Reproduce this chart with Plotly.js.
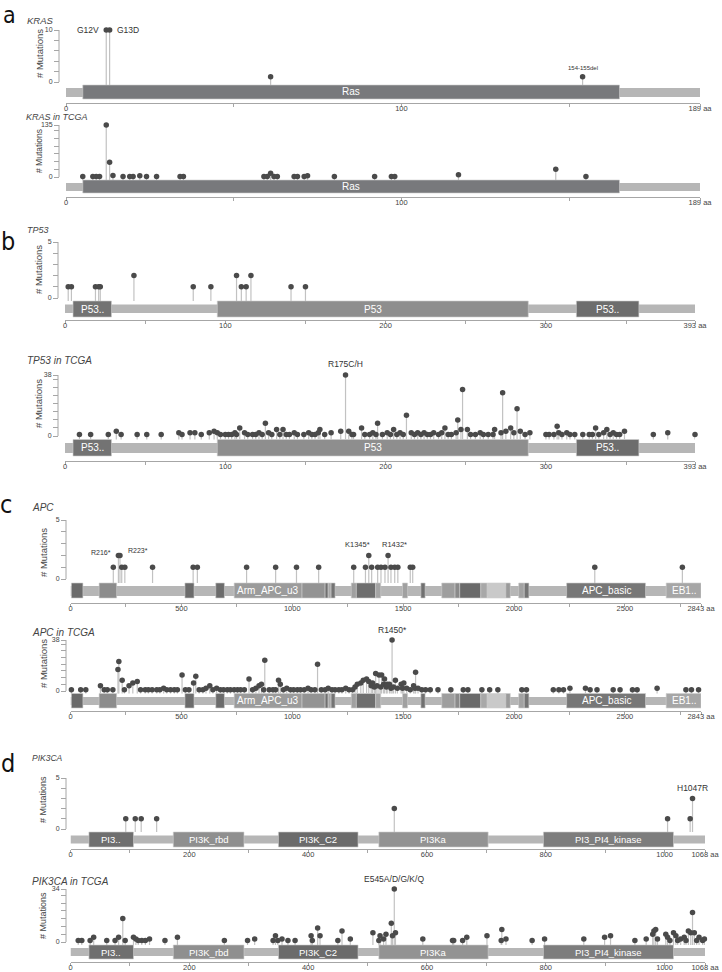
<!DOCTYPE html>
<html><head><meta charset="utf-8">
<script src="https://cdn.plot.ly/plotly-3.0.1.min.js"></script>
<style>html,body{margin:0;padding:0;background:#fff}#chart{width:722px;height:972px}</style>
</head><body><div id="chart"></div>
<script>
// ================= DATA =================
// KRAS
const krasLength = 189;
const krasDomainNames = ['Ras'];
const krasDomainStart = [5];
const krasDomainEnd = [165];
const krasPos = [12, 13, 61, 154];
const krasCount = [10, 10, 1, 1];
const krasLabelText = ['G12V', 'G13D', '154-155del'];
const krasLabelPos = [12, 13, 154];

const krasTcgaPos = [5, 8, 9, 10, 12, 13, 14, 17, 19, 20, 22, 24, 27, 34, 35, 59, 60, 61, 62, 63, 68, 69, 71, 72, 80, 92, 97, 98, 117, 146, 155];
const krasTcgaCount = [1, 1, 1, 1, 135, 38, 4, 1, 1, 1, 3, 1, 1, 1, 1, 1, 1, 10, 1, 1, 1, 1, 1, 3, 1, 1, 1, 1, 6, 20, 1];
const krasTcgaLabelText = [];
const krasTcgaLabelPos = [];

// TP53
const tp53Length = 393;
const tp53DomainNames = ['P53..', 'P53', 'P53..'];
const tp53DomainStart = [5, 95, 319];
const tp53DomainEnd = [29, 289, 358];
const tp53Pos = [2, 4, 19, 21, 22, 43, 80, 91, 107, 110, 113, 116, 141, 150];
const tp53Count = [1, 1, 1, 1, 1, 2, 1, 1, 2, 1, 1, 2, 1, 1];
const tp53LabelText = [];
const tp53LabelPos = [];

const tp53TcgaPos = [9, 16, 27, 32, 35, 45, 51, 60, 71, 73, 78, 81, 85, 90, 93, 95, 97, 100, 102, 104, 106, 107, 109, 112, 114, 117, 119, 121, 123, 125, 127, 129, 132, 134, 136, 138, 140, 143, 145, 149, 152, 154, 156, 158, 159, 162, 166, 172, 175, 177, 179, 180, 185, 187, 190, 192, 194, 195, 198, 201, 203, 205, 207, 209, 211, 213, 216, 218, 220, 222, 224, 226, 228, 230, 233, 235, 237, 239, 241, 244, 245, 247, 248, 251, 253, 256, 259, 261, 264, 267, 268, 272, 273, 275, 278, 280, 282, 284, 287, 290, 300, 302, 305, 307, 308, 310, 313, 315, 318, 323, 327, 329, 331, 333, 336, 338, 340, 342, 344, 346, 349, 367, 376, 393];
const tp53TcgaCount = [1, 1, 1, 3, 1, 1, 1, 1, 2, 1, 2, 2, 1, 2, 3, 2, 1, 1, 1, 1, 2, 1, 5, 2, 1, 1, 1, 2, 1, 8, 2, 1, 4, 1, 4, 1, 1, 2, 1, 1, 2, 1, 1, 2, 4, 1, 2, 3, 38, 3, 1, 1, 5, 1, 1, 2, 1, 8, 1, 2, 1, 4, 1, 2, 1, 13, 2, 1, 2, 1, 2, 1, 1, 2, 1, 2, 5, 1, 1, 2, 10, 4, 29, 4, 1, 1, 2, 1, 1, 1, 4, 2, 27, 3, 5, 2, 17, 3, 1, 2, 1, 1, 1, 6, 2, 1, 2, 1, 1, 1, 1, 1, 5, 1, 2, 4, 1, 2, 1, 1, 3, 1, 2, 1];
const tp53TcgaLabelText = ['R175C/H'];
const tp53TcgaLabelPos = [175];

// APC
const apcLength = 2843;
const apcDomainNames = ['', '', '', '', 'Arm_APC_u3', '', '', '', '', '', '', '', '', '', '', '', '', '', '', '', '', '', 'APC_basic', 'EB1..'];
const apcDomainStart = [4, 129, 516, 655, 738, 1044, 1148, 1162, 1175, 1266, 1289, 1376, 1497, 1580, 1674, 1734, 1755, 1850, 1879, 1963, 2021, 2046, 2237, 2686];
const apcDomainEnd = [56, 208, 557, 694, 1044, 1148, 1162, 1175, 1193, 1289, 1376, 1399, 1520, 1599, 1734, 1755, 1850, 1879, 1963, 1983, 2046, 2067, 2593, 2843];
const apcPos = [193, 216, 223, 231, 245, 370, 553, 572, 794, 925, 1019, 1119, 1277, 1330, 1345, 1358, 1385, 1400, 1418, 1432, 1445, 1462, 1476, 1532, 1543, 2364, 2759];
const apcCount = [1, 2, 2, 1, 1, 1, 1, 1, 1, 1, 1, 1, 1, 1, 2, 1, 1, 1, 1, 2, 1, 1, 1, 1, 1, 1, 1];
const apcLabelText = ['R216*', 'R223*', 'K1345*', 'R1432*'];
const apcLabelPos = [216, 223, 1345, 1432];

const apcTcgaPos = [4, 46, 69, 135, 152, 166, 191, 214, 218, 233, 243, 264, 281, 301, 316, 337, 351, 368, 389, 403, 420, 434, 451, 468, 482, 503, 518, 534, 555, 565, 580, 597, 611, 628, 642, 659, 676, 690, 707, 721, 738, 753, 767, 784, 805, 821, 836, 850, 861, 871, 876, 896, 913, 925, 938, 946, 960, 975, 992, 1006, 1023, 1037, 1054, 1071, 1085, 1102, 1114, 1131, 1148, 1162, 1179, 1193, 1210, 1224, 1241, 1256, 1272, 1283, 1293, 1309, 1320, 1335, 1345, 1356, 1362, 1370, 1376, 1382, 1391, 1399, 1403, 1412, 1416, 1424, 1428, 1438, 1445, 1450, 1456, 1465, 1474, 1491, 1497, 1503, 1516, 1532, 1547, 1553, 1556, 1567, 1584, 1601, 1622, 1657, 1715, 1771, 1792, 1855, 1890, 1927, 2035, 2056, 2177, 2202, 2223, 2252, 2322, 2343, 2374, 2447, 2478, 2534, 2555, 2645, 2775, 2800, 2832];
const apcTcgaCount = [1, 1, 1, 4, 1, 1, 1, 16, 22, 8, 1, 4, 6, 7, 1, 1, 1, 1, 1, 1, 2, 1, 1, 1, 1, 12, 1, 1, 6, 11, 1, 1, 2, 4, 1, 2, 1, 1, 1, 1, 1, 1, 1, 1, 9, 1, 2, 4, 5, 1, 23, 1, 1, 1, 8, 5, 1, 2, 1, 1, 1, 1, 1, 2, 1, 1, 20, 1, 1, 2, 1, 1, 1, 1, 2, 1, 1, 3, 5, 6, 8, 9, 7, 4, 6, 3, 13, 4, 12, 3, 12, 5, 9, 3, 5, 5, 2, 38, 3, 8, 2, 5, 2, 6, 2, 1, 4, 2, 14, 2, 1, 1, 1, 1, 1, 1, 1, 1, 1, 1, 1, 1, 1, 1, 1, 2, 2, 1, 1, 1, 1, 1, 1, 2, 1, 1, 1];
const apcTcgaLabelText = ['R1450*'];
const apcTcgaLabelPos = [1450];

// PIK3CA
const pik3caLength = 1068;
const pik3caDomainNames = ['PI3..', 'PI3K_rbd', 'PI3K_C2', 'PI3Ka', 'PI3_PI4_kinase'];
const pik3caDomainStart = [31, 173, 350, 519, 796];
const pik3caDomainEnd = [106, 292, 484, 703, 1015];
const pik3caPos = [93, 109, 119, 145, 545, 1005, 1043, 1047];
const pik3caCount = [1, 1, 1, 1, 2, 1, 1, 3];
const pik3caLabelText = ['H1047R'];
const pik3caLabelPos = [1047];

const pik3caTcgaPos = [13, 19, 33, 39, 61, 75, 81, 88, 92, 106, 110, 114, 120, 126, 133, 159, 180, 259, 298, 310, 341, 345, 349, 356, 366, 378, 405, 407, 416, 420, 450, 457, 471, 509, 519, 521, 527, 531, 540, 542, 545, 547, 593, 643, 645, 660, 667, 701, 725, 726, 733, 777, 798, 864, 899, 909, 950, 969, 980, 982, 985, 988, 1002, 1005, 1009, 1015, 1019, 1022, 1027, 1033, 1036, 1040, 1044, 1047, 1050, 1054, 1058, 1064, 1067];
const pik3caTcgaCount = [1, 1, 1, 3, 1, 1, 3, 15, 1, 3, 2, 1, 1, 1, 2, 1, 3, 1, 1, 2, 1, 4, 1, 2, 1, 1, 4, 1, 9, 4, 1, 7, 2, 6, 1, 4, 2, 5, 12, 4, 34, 6, 2, 1, 1, 1, 3, 4, 1, 8, 2, 1, 2, 2, 3, 4, 1, 2, 5, 7, 8, 2, 5, 3, 1, 6, 4, 1, 2, 3, 1, 7, 6, 19, 6, 1, 3, 1, 2];
const pik3caTcgaLabelText = ['E545A/D/G/K/Q'];
const pik3caTcgaLabelPos = [545];

// ================= STYLE / LAYOUT =================
const W = 722, H = 972;
const krasDomainColors = ['#78797c'];
const tp53DomainColors = ['#737373', '#8e8e8e', '#6d6d6d'];
const apcDomainColors = ['#6b6b6b', '#8c8c8c', '#6b6b6b', '#6b6b6b', '#9b9b9b', '#939393', '#707070', '#a8a8a8', '#747474', '#a0a0a0', '#6e6e6e', '#a4a4a4', '#a0a0a0', '#707070', '#9e9e9e', '#8a8a8a', '#6a6a6a', '#a8a8a8', '#c9c9c9', '#9a9a9a', '#a2a2a2', '#747474', '#777777', '#a6a6a6'];
const pik3caDomainColors = ['#6f6f6f', '#8f8f8f', '#6b6b6b', '#939393', '#7d7d7d'];

const FONT = "'Liberation Sans', Arial, Helvetica, sans-serif";

const panels = [
  {title: 'KRAS', len: krasLength, pos: krasPos, cnt: krasCount, dn: krasDomainNames, ds: krasDomainStart, de: krasDomainEnd, dc: krasDomainColors,
   lt: krasLabelText, lp: krasLabelPos, max: 10, ystep: 2, xstep: 50, xlab: 100,
   g: {x0: 66, x1: 700, yax: 59, y0: 82, yTop: 30, domTop: 85, domBot: 99, bbTop: 88, bbBot: 97, axisY: 103, tX: 25, tY: 20, tS: 9.5, ytX: 39, ytY: 54, ytS: 9.5, dS: 10},
   ls: [{xa: 'right', xs: -5, ys: 0, s: 8.5}, {xa: 'left', xs: 5, ys: 0, s: 8.5}, {xa: 'center', xs: 0, ys: 9, s: 6}]},
  {title: 'KRAS in TCGA', len: krasLength, pos: krasTcgaPos, cnt: krasTcgaCount, dn: krasDomainNames, ds: krasDomainStart, de: krasDomainEnd, dc: krasDomainColors,
   lt: krasTcgaLabelText, lp: krasTcgaLabelPos, max: 135, ystep: 20, xstep: 50, xlab: 100,
   g: {x0: 66, x1: 700, yax: 59, y0: 177, yTop: 125, domTop: 180, domBot: 193, bbTop: 183, bbBot: 191, axisY: 197, tX: 24, tY: 117, tS: 9, ytX: 39, ytY: 151, ytS: 8.5, dS: 10},
   ls: []},
  {title: 'TP53', len: tp53Length, pos: tp53Pos, cnt: tp53Count, dn: tp53DomainNames, ds: tp53DomainStart, de: tp53DomainEnd, dc: tp53DomainColors,
   lt: tp53LabelText, lp: tp53LabelPos, max: 5, ystep: 1, xstep: 50, xlab: 100,
   g: {x0: 65, x1: 695, yax: 58, y0: 298, yTop: 242, domTop: 301, domBot: 317, bbTop: 304.5, bbBot: 313, axisY: 320, tX: 25, tY: 230, tS: 9, ytX: 38, ytY: 270, ytS: 9.5, dS: 10},
   ls: []},
  {title: 'TP53 in TCGA', len: tp53Length, pos: tp53TcgaPos, cnt: tp53TcgaCount, dn: tp53DomainNames, ds: tp53DomainStart, de: tp53DomainEnd, dc: tp53DomainColors,
   lt: tp53TcgaLabelText, lp: tp53TcgaLabelPos, max: 38, ystep: 5, xstep: 50, xlab: 100,
   g: {x0: 65, x1: 695, yax: 58, y0: 436, yTop: 375, domTop: 439.5, domBot: 456, bbTop: 443, bbBot: 453, axisY: 461, tX: 25, tY: 360, tS: 10, ytX: 38, ytY: 404, ytS: 9.5, dS: 10},
   ls: [{xa: 'center', xs: 0, ys: 9, s: 8.5}]},
  {title: 'APC', len: apcLength, pos: apcPos, cnt: apcCount, dn: apcDomainNames, ds: apcDomainStart, de: apcDomainEnd, dc: apcDomainColors,
   lt: apcLabelText, lp: apcLabelPos, max: 5, ystep: 1, xstep: 250, xlab: 500,
   g: {x0: 70.5, x1: 701, yax: 66, y0: 579, yTop: 520, domTop: 583, domBot: 598, bbTop: 586, bbBot: 596, axisY: 603, tX: 30, tY: 508, tS: 10, ytX: 43, ytY: 553, ytS: 9.5, dS: 10},
   ls: [{xa: 'right', xs: -5, ys: 2, s: 7}, {xa: 'left', xs: 6, ys: 4, s: 7}, {xa: 'right', xs: 3, ys: 9, s: 7.5}, {xa: 'left', xs: -8, ys: 9, s: 7.5}]},
  {title: 'APC in TCGA', len: apcLength, pos: apcTcgaPos, cnt: apcTcgaCount, dn: apcDomainNames, ds: apcDomainStart, de: apcDomainEnd, dc: apcDomainColors,
   lt: apcTcgaLabelText, lp: apcTcgaLabelPos, max: 38, ystep: 5, xstep: 250, xlab: 500,
   g: {x0: 70.5, x1: 701, yax: 66, y0: 691, yTop: 640, domTop: 693.5, domBot: 708, bbTop: 697, bbBot: 705, axisY: 711, tX: 30, tY: 632.5, tS: 10, ytX: 43, ytY: 664, ytS: 9.5, dS: 10},
   ls: [{xa: 'center', xs: 0, ys: 8, s: 8.5}]},
  {title: 'PIK3CA', len: pik3caLength, pos: pik3caPos, cnt: pik3caCount, dn: pik3caDomainNames, ds: pik3caDomainStart, de: pik3caDomainEnd, dc: pik3caDomainColors,
   lt: pik3caLabelText, lp: pik3caLabelPos, max: 5, ystep: 1, xstep: 100, xlab: 200,
   g: {x0: 70.5, x1: 705, yax: 66, y0: 829, yTop: 778, domTop: 832, domBot: 847, bbTop: 835.5, bbBot: 843.5, axisY: 849, tX: 30, tY: 758, tS: 8.5, ytX: 43, ytY: 800, ytS: 9, dS: 9.5},
   ls: [{xa: 'center', xs: 0, ys: 8, s: 8.5}]},
  {title: 'PIK3CA in TCGA', len: pik3caLength, pos: pik3caTcgaPos, cnt: pik3caTcgaCount, dn: pik3caDomainNames, ds: pik3caDomainStart, de: pik3caDomainEnd, dc: pik3caDomainColors,
   lt: pik3caTcgaLabelText, lp: pik3caTcgaLabelPos, max: 34, ystep: 5, xstep: 100, xlab: 200,
   g: {x0: 70.5, x1: 705, yax: 66, y0: 942, yTop: 889, domTop: 945, domBot: 959, bbTop: 948, bbBot: 956, axisY: 962, tX: 30, tY: 881.5, tS: 10, ytX: 43, ytY: 916, ytS: 9, dS: 9.5},
   ls: [{xa: 'center', xs: 0, ys: 8, s: 8.5}]}
];

const letters = [
  {t: 'a', x: 9, y: 0, top: true}, {t: 'b', x: 7.5, y: 241.7}, {t: 'c', x: 5.5, y: 504.7}, {t: 'd', x: 8, y: 763.7}
];

const traces = [];
const layout = {
  width: W, height: H, margin: {l: 0, r: 0, t: 0, b: 0},
  paper_bgcolor: '#ffffff', plot_bgcolor: 'rgba(0,0,0,0)',
  showlegend: false, hovermode: false,
  font: {family: FONT, color: '#444'},
  shapes: [], annotations: []
};

panels.forEach((p, i) => {
  const n = i + 1;
  const xid = n === 1 ? 'x' : 'x' + n;
  const yid = n === 1 ? 'y' : 'y' + n;
  const g = p.g;
  const s = (g.y0 - g.yTop) / p.max;           // px per count
  const val = py => (g.y0 - py) / s;            // pixel -> data value
  const topPx = g.yTop - 8;

  const xv = [], xt = [];
  for (let v = 0; v < p.len; v += p.xstep) {
    xv.push(v);
    xt.push(v % p.xlab === 0 ? String(v) : '');
  }
  xv.push(p.len); xt.push(p.len + ' aa');
  const yv = [], yt = [];
  for (let v = 0; v < p.max; v += p.ystep) { yv.push(v); yt.push(v === 0 ? '0' : ''); }
  yv.push(p.max); yt.push(String(p.max));

  layout['xaxis' + (n === 1 ? '' : n)] = {
    domain: [g.x0 / W, g.x1 / W], range: [0, p.len], anchor: yid,
    showgrid: false, zeroline: false, showline: true, linecolor: '#a6a6a6', linewidth: 1,
    ticks: 'outside', ticklen: 3, tickcolor: '#a6a6a6', tickwidth: 1,
    ticklabelstandoff: -5,
    tickmode: 'array', tickvals: xv, ticktext: xt,
    tickfont: {size: 7.5, color: '#444', family: FONT}, fixedrange: true
  };
  layout['yaxis' + (n === 1 ? '' : n)] = {
    domain: [1 - g.axisY / H, 1 - topPx / H], range: [val(g.axisY), val(topPx)],
    anchor: 'free', position: g.yax / W,
    showgrid: false, zeroline: false, showline: false,
    ticks: 'outside', ticklen: 5, tickcolor: '#a6a6a6', tickwidth: 1,
    tickmode: 'array', tickvals: yv, ticktext: yt,
    tickfont: {size: 7, color: '#444', family: FONT}, fixedrange: true
  };

  layout.shapes.push({type: 'line', xref: 'paper', yref: yid, x0: g.yax / W, x1: g.yax / W, y0: 0, y1: p.max,
    line: {color: '#a6a6a6', width: 1}, layer: 'above'});
  layout.shapes.push({type: 'rect', xref: xid, yref: yid, x0: 0, x1: p.len, y0: val(g.bbBot), y1: val(g.bbTop),
    fillcolor: '#b6b6b6', line: {width: 0}, layer: 'below'});
  p.ds.forEach((st, k) => {
    layout.shapes.push({type: 'rect', xref: xid, yref: yid, x0: st, x1: p.de[k], y0: val(g.domBot), y1: val(g.domTop),
      fillcolor: p.dc[k], line: {color: '#cfcfcf', width: 0.6}, layer: 'below'});
    if (p.dn[k]) {
      layout.annotations.push({xref: xid, yref: yid, x: (st + p.de[k]) / 2, y: val((g.domTop + g.domBot) / 2),
        text: p.dn[k], showarrow: false, xanchor: 'center', yanchor: 'middle',
        font: {size: g.dS, color: '#ffffff', family: FONT}});
    }
  });

  const sx = [], sy = [];
  const base = val(g.domTop);
  p.pos.forEach((x, k) => { sx.push(x, x, null); sy.push(base, p.cnt[k], null); });
  traces.push({type: 'scatter', mode: 'lines', x: sx, y: sy, xaxis: xid, yaxis: yid,
    line: {color: '#c2c2c2', width: 1.2}, hoverinfo: 'skip', cliponaxis: false});
  traces.push({type: 'scatter', mode: 'markers', x: p.pos, y: p.cnt, xaxis: xid, yaxis: yid,
    marker: {size: 5.5, color: '#4a4a4a', line: {width: 0}}, hoverinfo: 'skip', cliponaxis: false});

  p.lt.forEach((t, k) => {
    const x = p.lp[k];
    const idx = p.pos.indexOf(x);
    const st = p.ls[k];
    layout.annotations.push({xref: xid, yref: yid, x: x, y: p.cnt[idx], text: t, showarrow: false,
      xanchor: st.xa, yanchor: st.ys > 0 ? 'bottom' : 'middle', xshift: st.xs, yshift: st.ys > 0 ? st.ys - 5 : 0,
      font: {size: st.s, color: '#333', family: FONT}});
  });

  layout.annotations.push({xref: 'paper', yref: 'paper', x: g.tX / W, y: 1 - g.tY / H, text: '<i>' + p.title + '</i>',
    showarrow: false, xanchor: 'left', yanchor: 'middle', font: {size: g.tS, color: '#444', family: FONT}});
  layout.annotations.push({xref: 'paper', yref: 'paper', x: g.ytX / W, y: 1 - g.ytY / H, text: '# Mutations',
    showarrow: false, textangle: -90, xanchor: 'center', yanchor: 'middle', font: {size: g.ytS, color: '#444', family: FONT}});
});

letters.forEach(L => {
  layout.annotations.push({xref: 'paper', yref: 'paper', x: L.x / W, y: 1 - L.y / H, text: L.t, showarrow: false,
    xanchor: 'center', yanchor: L.top ? 'top' : 'middle',
    font: {size: L.top ? 23 : 25, color: '#111', family: "'Liberation Sans Narrow', 'DejaVu Sans Condensed', sans-serif"}});
});

Plotly.newPlot('chart', traces, layout, {staticPlot: true, displayModeBar: false});
</script>
</body></html>
